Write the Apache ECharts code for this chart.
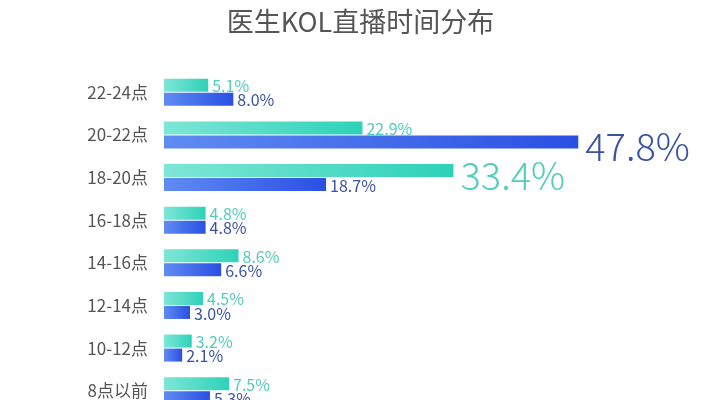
<!DOCTYPE html>
<html><head><meta charset="utf-8">
<script src="https://cdn.jsdelivr.net/npm/echarts@6/dist/echarts.min.js"></script>
<style>html,body{margin:0;padding:0;background:#fff;overflow:hidden}#c{width:721px;height:412px}</style>
</head><body><div id="c"></div>
<script>
var categories = ['22-24点','20-22点','18-20点','16-18点','14-16点','12-14点','10-12点','8点以前'];
var tealValues = [5.1, 22.9, 33.4, 4.8, 8.6, 4.5, 3.2, 7.5];
var blueValues = [8.0, 47.8, 18.7, 4.8, 6.6, 3.0, 2.1, 5.3];
var titleText = '医生KOL直播时间分布';

function build(vals) {
  return vals.map(function (v) {
    var big = v > 30;
    return {
      value: v,
      label: big ? { fontSize: 38, fontWeight: 300, offset: [0, 5], distance: 7 } : {}
    };
  });
}
var chart = echarts.init(document.getElementById('c'));
var font = '"Noto Sans CJK SC","Noto Sans",sans-serif';
chart.setOption({
  backgroundColor: '#fff',
  animation: false,
  title: { text: titleText, left: 'center', top: 3,
    textStyle: { fontSize: 27, fontWeight: 'normal', color: '#555', fontFamily: font } },
  grid: { left: 164, right: 37, top: 71, bottom: 0, containLabel: false },
  xAxis: { type: 'value', min: 0, max: 60, show: false },
  yAxis: { type: 'category', data: categories, inverse: true,
    axisLine: { show: false }, axisTick: { show: false },
    axisLabel: { margin: 16, fontSize: 17, color: '#555', fontFamily: font } },
  series: [
    { type: 'bar', data: build(tealValues), barWidth: 13, barGap: '8%',
      itemStyle: { color: new echarts.graphic.LinearGradient(0,0,1,0,[{offset:0,color:'#7ee6d6'},{offset:1,color:'#2dd2b8'}]) },
      label: { show: true, position: 'right', distance: 4, formatter: function(p){return p.value.toFixed(1)+'%';},
        fontSize: 16, color: '#52ccbb', fontFamily: font, offset:[0,1] } },
    { type: 'bar', data: build(blueValues), barWidth: 13,
      itemStyle: { color: new echarts.graphic.LinearGradient(0,0,1,0,[{offset:0,color:'#5f8cf2'},{offset:1,color:'#2a4fe3'}]) },
      label: { show: true, position: 'right', distance: 4, formatter: function(p){return p.value.toFixed(1)+'%';},
        fontSize: 16, color: '#3b52a0', fontFamily: font, offset:[0,1] } }
  ]
});
</script></body></html>
